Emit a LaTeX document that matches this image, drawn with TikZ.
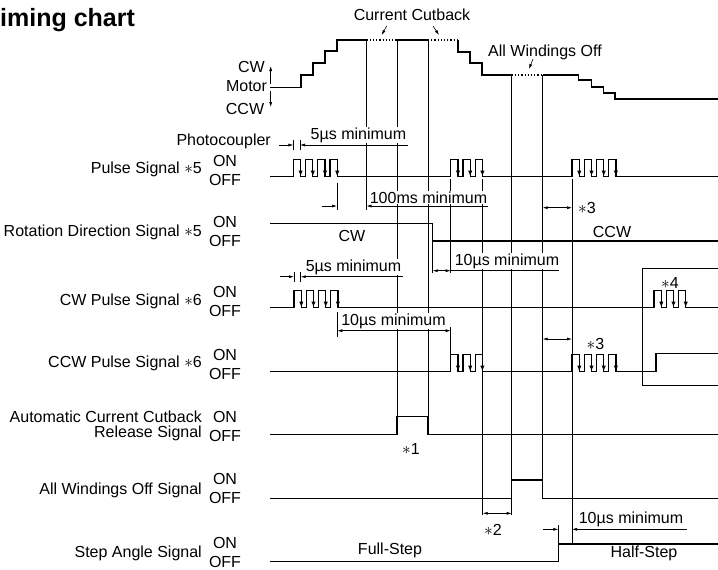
\documentclass[tikz,border=0pt]{standalone}
\usepackage{fontspec}
\setmainfont{Liberation Sans}
\usetikzlibrary{arrows.meta}

\begin{document}
\begin{tikzpicture}[x=1pt, y=-1pt, >={Latex[length=5pt,width=3pt]},
    sig/.style={line width=1.2pt},
    fall/.style={line width=1.2pt, -{Latex[length=6pt,width=4.5pt]}},
    guide/.style={line width=0.6pt},
    dim/.style={line width=0.6pt},
    txt/.style={font=\fontsize{16}{19}\selectfont, inner sep=1pt},
    lbl/.style={txt, anchor=east},
    dimtxt/.style={txt, fill=white, inner sep=0.6pt}]
  \useasboundingbox (0,0) rectangle (718,570);
  % 标题
  \node[font=\bfseries\fontsize{25}{28}\selectfont, anchor=west, inner sep=0] (title) at (0,20) {iming chart};
  % 时间参考线
  \draw[guide] (366.5,40) -- (366.5,210);
  \draw[guide] (397,40) -- (397,416.5);
  \draw[guide] (428,40) -- (428,416.5);
  \draw[guide] (450.7,179) -- (450.7,273);
  \draw[guide] (450.7,327) -- (450.7,354.5);
  \draw[guide] (482.7,179) -- (482.7,515);
  \draw[guide] (511.7,75) -- (511.7,515);
  \draw[guide] (542.7,75) -- (542.7,480);
  \draw[guide] (572,179) -- (572,544);
  \draw[guide] (432.7,241) -- (432.7,273);
  \draw[guide] (337,183) -- (337,210);
  \draw[guide] (337.3,311.7) -- (337.3,336.7);
  \draw[guide] (558.3,525) -- (558.3,544);
  \draw[guide] (293.3,140) -- (293.3,150) (300,140) -- (300,150);
  \draw[guide] (294,272) -- (294,282) (300.7,272) -- (300.7,282);
  % 电机
  \node[txt] (mcw) at (251.5,67) {CW};
  \node[txt] (motor) at (246.5,86) {Motor};
  \node[txt] (mccw) at (245,108.5) {CCW};
  \draw[dim,->] (270.7,84) -- (270.7,66);
  \draw[dim,->] (270.7,91) -- (270.7,107);
  \draw[sig] (270,87.3) -- (301,87.3) -- (301,75) -- (313,75) -- (313,63) -- (325,63)
    -- (325,51) -- (337,51) -- (337,40) -- (366.5,40);
  \draw[sig, dotted] (366.5,40) -- (397,40);
  \draw[sig] (397,40) -- (428,40);
  \draw[sig, dotted] (428,40) -- (458,40);
  \draw[sig] (458,40) -- (458,52) -- (470,52) -- (470,63) -- (482,63) -- (482,75) -- (511.7,75);
  \draw[sig, dotted] (511.7,75) -- (542.7,75);
  \draw[sig] (542.7,75) -- (578.3,75) -- (578.3,80) -- (591.7,80) -- (591.7,87) -- (603.3,87)
    -- (603.3,93) -- (615,93) -- (615,99) -- (718,99);
  \node[txt] (cutback) at (412,15) {Current Cutback};
  \draw[dim,->] (386.7,26) -- (381.7,35);
  \draw[dim,->] (433,26) -- (439,35);
  \node[txt] (allwoff) at (545,52) {All Windings Off};
  \draw[dim,->] (533,59) -- (529,69);
  % 左侧标签
  \node[lbl] (photo) at (272,141) {Photocoupler};
  \node[lbl] (pulse) at (203,169) {Pulse Signal $\ast$5};
  \node[lbl] (rotdir) at (203,232) {Rotation Direction Signal $\ast$5};
  \node[lbl] (cwpulse) at (203,301) {CW Pulse Signal $\ast$6};
  \node[lbl] (ccwpulse) at (203,363) {CCW Pulse Signal $\ast$6};
  \node[lbl] (acc) at (203,416.7) {Automatic Current Cutback};
  \node[lbl] (accrel) at (203,433.3) {Release Signal};
  \node[lbl] (awo) at (203,490) {All Windings Off Signal};
  \node[lbl] (step) at (203,553) {Step Angle Signal};
  \foreach \y [count=\k] in {161,222,291.7,355,416.7,479.3,543.3} {
    \node[txt] (on\k) at (225,\y) {ON};
    \node[txt] (off\k) at (225,\y+19) {OFF};
  }
  % 脉冲信号
  \draw[sig] (270,176.5) -- (293.3,176.5)
    foreach \i in {1,...,4} {-- ++(0,-17) -- ++(7.3,0) -- ++(0,17) -- ++(4.9,0)}
    -- (450.7,176.5)
    foreach \i in {1,2,3} {-- ++(0,-17) -- ++(7.3,0) -- ++(0,17) -- ++(4.9,0)}
    -- (572,176.5)
    foreach \i in {1,...,4} {-- ++(0,-17) -- ++(7.3,0) -- ++(0,17) -- ++(4.9,0)}
    -- (718,176.5);
  \foreach \s/\n in {293.3/3, 450.7/2, 572/3}
    \foreach \i in {0,...,\n}
      \draw[fall] ({\s+12.2*\i+7.3},159.5) -- ++(0,17);
  % 旋转方向信号
  \draw[sig] (270,223.3) -- (432.7,223.3) -- (432.7,241) -- (718,241);
  \node[txt] (cwtxt) at (352,236) {CW};
  \node[txt] (ccwtxt) at (612,231.7) {CCW};
  % CW 脉冲信号
  \draw[sig] (270,307.5) -- (294,307.5)
    foreach \i in {1,...,4} {-- ++(0,-17) -- ++(7.3,0) -- ++(0,17) -- ++(4.9,0)}
    -- (654,307.5)
    foreach \i in {1,2,3} {-- ++(0,-17) -- ++(7.3,0) -- ++(0,17) -- ++(4.9,0)}
    -- (718,307.5);
  \foreach \s/\n in {294/3, 654/2}
    \foreach \i in {0,...,\n}
      \draw[fall] ({\s+12.2*\i+7.3},290.5) -- ++(0,17);
  % CCW 脉冲信号
  \draw[sig] (270,371.5) -- (450.7,371.5)
    foreach \i in {1,2,3} {-- ++(0,-17) -- ++(7.3,0) -- ++(0,17) -- ++(4.9,0)}
    -- (572,371.5)
    foreach \i in {1,...,4} {-- ++(0,-17) -- ++(7.3,0) -- ++(0,17) -- ++(4.9,0)}
    -- (656,371.5) -- (656,353.3) -- (718,353.3);
  \foreach \s/\n in {450.7/2, 572/3}
    \foreach \i in {0,...,\n}
      \draw[fall] ({\s+12.2*\i+7.3},354.5) -- ++(0,17);
  \draw[dim] (718,268.3) -- (642.7,268.3) -- (642.7,385) -- (718,385);
  \node[txt] (n4) at (670,282.7) {$\ast$4};
  % 其余信号
  \draw[sig] (270,434.3) -- (397,434.3) -- (397,416.5) -- (428,416.5) -- (428,434.3) -- (718,434.3);
  \node[txt] (n1) at (411,449) {$\ast$1};
  \draw[sig] (270,498.3) -- (511.7,498.3) -- (511.7,480) -- (542.7,480) -- (542.7,498.3) -- (718,498.3);
  \draw[sig] (270,561.7) -- (558.3,561.7) -- (558.3,544) -- (718,544);
  \node[txt] (full) at (390,550) {Full-Step};
  \node[txt] (half) at (644,553) {Half-Step};
  % 尺寸标注
  \draw[dim,->] (279,145) -- (293.3,145);
  \draw[dim,<-] (300,145) -- (408,145);
  \node[dimtxt, anchor=south east] (d5a) at (407,143.5) {5µs minimum};
  \draw[dim,->] (322,206) -- (337,206);
  \draw[dim,<-] (366.5,206) -- (488,206);
  \node[dimtxt, anchor=south east] (d100) at (488,204.5) {100ms minimum};
  \draw[dim,<->] (542.7,207.7) -- (572,207.7);
  \node[txt] (n3a) at (587,207.7) {$\ast$3};
  \draw[dim,<->] (432.7,270.7) -- (450.7,270.7);
  \draw[dim] (450.7,270.7) -- (559,270.7);
  \node[dimtxt, anchor=south west] (d10a) at (454,269.2) {10µs minimum};
  \draw[dim,->] (280,276.7) -- (294,276.7);
  \draw[dim,<-] (300.7,276.7) -- (403.3,276.7);
  \node[dimtxt, anchor=south east] (d5b) at (402,275.2) {5µs minimum};
  \draw[dim,<->] (337.3,330.7) -- (450.7,330.7);
  \node[dimtxt, anchor=south] (d10b) at (393.5,329.2) {10µs minimum};
  \draw[dim,<->] (542.7,339) -- (572,339);
  \node[txt] (n3b) at (595.5,344) {$\ast$3};
  \draw[dim,<->] (482.7,513.3) -- (511.7,513.3);
  \node[txt] (n2) at (493,530) {$\ast$2};
  \draw[dim,->] (542.7,529.3) -- (558.3,529.3);
  \draw[dim,<-] (572,529.3) -- (686.7,529.3);
  \node[dimtxt, anchor=south east] (d10c) at (684,527.8) {10µs minimum};
\end{tikzpicture}
\end{document}
